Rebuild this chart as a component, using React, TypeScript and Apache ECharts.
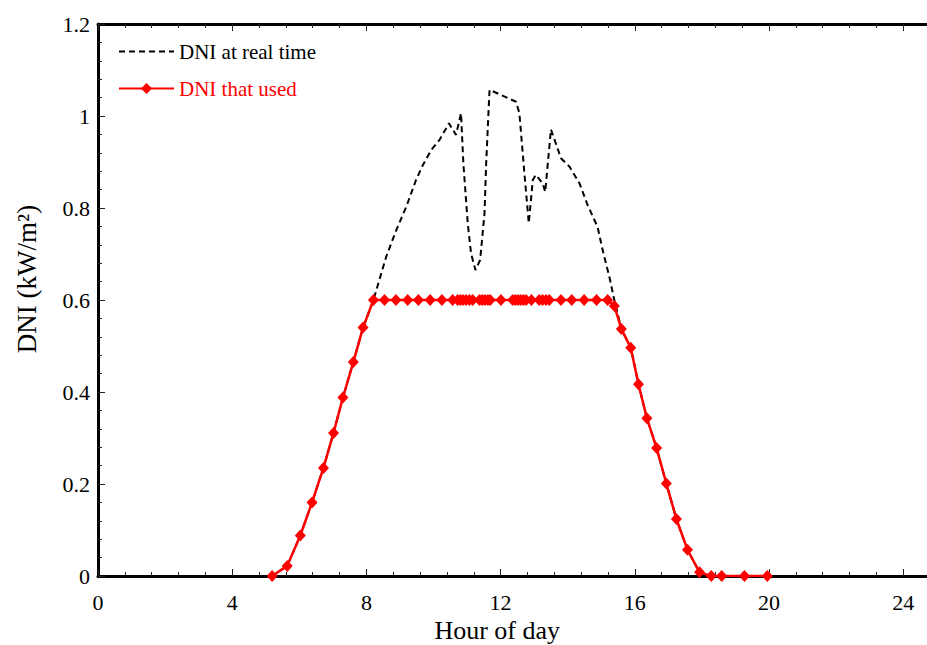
import { useEffect, useRef } from "react";
import * as echarts from "echarts";

// Hour of day for the measured (real time) DNI curve
const hoursReal = [
  5.19, 5.64, 6.03, 6.38, 6.72, 7.02, 7.3, 7.61, 7.9, 8.21,
  8.59, 8.89, 9.19, 9.48, 9.68, 9.93, 10.18, 10.46, 10.67, 10.82,
  10.89, 11.02, 11.12, 11.25, 11.39, 11.52, 11.57, 11.67, 12.46, 12.56,
  12.71, 12.84, 12.96, 13.05, 13.25, 13.33, 13.5, 13.8, 14.05, 14.35,
  14.59, 14.89, 15.04, 15.24, 15.39, 15.6, 15.88, 16.11, 16.36, 16.65,
  16.94, 17.24, 17.57, 17.93, 18.28, 18.59, 19.27, 19.95,
];
// DNI at real time (kW/m2)
const dniReal = [
  0, 0.022, 0.088, 0.16, 0.235, 0.311, 0.388, 0.465, 0.54, 0.6,
  0.694, 0.752, 0.803, 0.861, 0.893, 0.926, 0.948, 0.984, 0.959, 1.006,
  0.897, 0.767, 0.701, 0.665, 0.687, 0.788, 0.897, 1.057, 1.031, 1.006,
  0.875, 0.767, 0.861, 0.872, 0.854, 0.835, 0.971, 0.908, 0.89, 0.854,
  0.807, 0.759, 0.709, 0.651, 0.6, 0.537, 0.496, 0.417, 0.343, 0.278,
  0.201, 0.124, 0.057, 0.008, 0, 0, 0, 0,
];

// Hour of day for the DNI that is used
const hoursUsed = [
  5.19, 5.64, 6.03, 6.38, 6.72, 7.02, 7.3, 7.61, 7.9,
  8.21, 8.54, 8.88, 9.23, 9.55, 9.9,
  10.25, 10.57, 10.72, 10.8, 10.88, 10.97,
  11.07, 11.17, 11.37, 11.45, 11.53, 11.62,
  11.69, 12.01, 12.36, 12.44, 12.52, 12.6,
  12.68, 12.76, 12.92, 13.15, 13.25, 13.35,
  13.45, 13.8, 14.12, 14.49, 14.86, 15.19,
  15.39, 15.6, 15.88, 16.11, 16.36, 16.65, 16.94, 17.24, 17.57, 17.93,
  18.28, 18.59, 19.27, 19.95,
];
// DNI that used (kW/m2)
const dniUsed = [
  0, 0.022, 0.088, 0.16, 0.235, 0.311, 0.388, 0.465, 0.54,
  0.6, 0.6, 0.6, 0.6, 0.6, 0.6,
  0.6, 0.6, 0.6, 0.6, 0.6, 0.6,
  0.6, 0.6, 0.6, 0.6, 0.6, 0.6,
  0.6, 0.6, 0.6, 0.6, 0.6, 0.6,
  0.6, 0.6, 0.6, 0.6, 0.6, 0.6,
  0.6, 0.6, 0.6, 0.6, 0.6, 0.6,
  0.587, 0.537, 0.496, 0.417, 0.343, 0.278, 0.201, 0.124, 0.057, 0.008,
  0, 0, 0, 0,
];

const seriesNames = ["DNI at real time", "DNI that used"];

export default function App() {
  const ref = useRef<HTMLDivElement>(null);

  useEffect(() => {
    if (!ref.current) return;
    const chart = echarts.init(ref.current, null, { renderer: "svg" });
    const font = "Liberation Serif";

    const axisLine = { show: true, onZero: false, lineStyle: { color: "#000", width: 3 } };
    const tick = { show: true, inside: true, length: 7, lineStyle: { color: "#222", width: 1 } };
    const minor = (n: number) => ({
      show: true,
      splitNumber: n,
      length: 4,
      lineStyle: { color: "#222", width: 1 },
    });

    chart.setOption({
      animation: false,
      backgroundColor: "#fff",
      textStyle: { fontFamily: font },
      grid: {
        left: 98,
        top: 24,
        height: 552,
        width: 939.4,
        containLabel: false,
        outerBoundsMode: "none",
      },
      legend: {
        orient: "vertical",
        left: 113,
        top: 36,
        itemWidth: 55,
        itemHeight: 14,
        itemGap: 16,
        textStyle: { fontSize: 21, fontFamily: font, lineHeight: 20 },
        data: [
          {
            name: seriesNames[0],
            textStyle: { color: "#000" },
            itemStyle: { color: "rgba(0,0,0,0)", borderWidth: 0, opacity: 0 },
          },
          { name: seriesNames[1], textStyle: { color: "#ff0000" } },
        ],
      },
      xAxis: [
        {
          type: "value",
          position: "bottom",
          min: 0,
          max: 28,
          interval: 4,
          axisLine,
          axisTick: tick,
          minorTick: minor(5),
          splitLine: { show: false },
          axisLabel: {
            fontSize: 22,
            color: "#000",
            fontFamily: font,
            margin: 15,
            showMaxLabel: false,
          },
          name: "Hour of day",
          nameLocation: "middle",
          nameGap: 41,
          nameTextStyle: { fontSize: 26, color: "#000", fontFamily: font, padding: [0, 141, 0, 0] },
        },
        {
          type: "value",
          position: "top",
          min: 0,
          max: 28,
          interval: 4,
          axisLine,
          axisTick: tick,
          minorTick: minor(5),
          splitLine: { show: false },
          axisLabel: { show: false },
        },
      ],
      yAxis: {
        type: "value",
        min: 0,
        max: 1.2,
        interval: 0.2,
        axisLine,
        axisTick: tick,
        minorTick: minor(5),
        splitLine: { show: false },
        axisLabel: { fontSize: 22, color: "#000", fontFamily: font, margin: 8 },
        name: "DNI (kW/m²)",
        nameLocation: "middle",
        nameGap: 58,
        nameTextStyle: { fontSize: 27, color: "#000", fontFamily: font, padding: [0, 0, 0, 42] },
      },
      series: [
        {
          name: seriesNames[0],
          type: "line",
          data: hoursReal.map((h, i) => [h, dniReal[i]]),
          symbol: "none",
          lineStyle: { color: "#000", width: 2, type: [6, 4] },
          itemStyle: { color: "#000" },
          z: 2,
        },
        {
          name: seriesNames[1],
          type: "line",
          data: hoursUsed.map((h, i) => [h, dniUsed[i]]),
          symbol: "diamond",
          symbolSize: [11, 12],
          lineStyle: { color: "#ff0000", width: 2.5 },
          itemStyle: { color: "#ff0000" },
          z: 3,
        },
      ],
    });

    return () => chart.dispose();
  }, []);

  return (
    <div
      ref={ref}
      style={{ position: "fixed", left: 0, top: 0, width: 927, height: 645, background: "#fff" }}
    />
  );
}
